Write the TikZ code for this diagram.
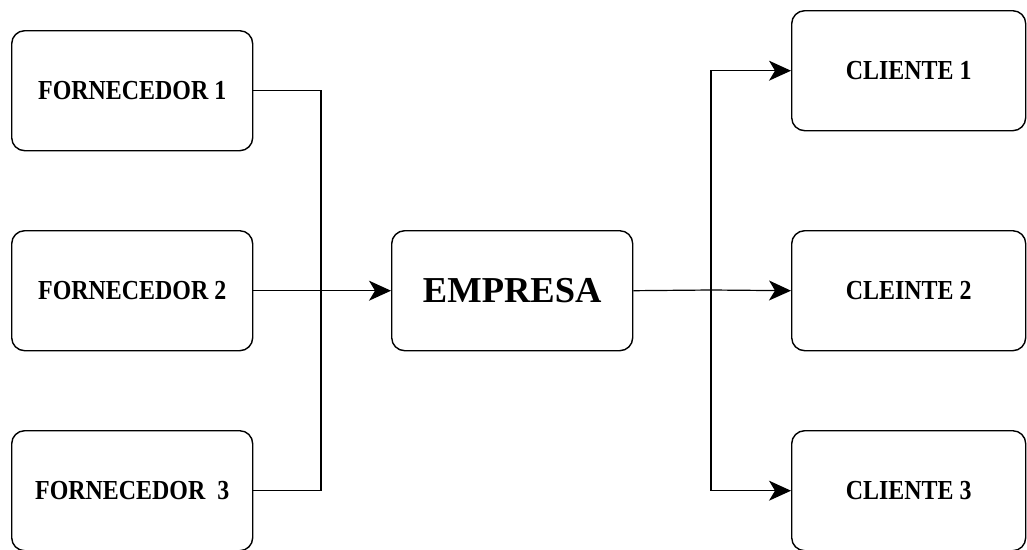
\documentclass[tikz,border=0pt]{standalone}
\usepackage{fontspec}
\setmainfont{Liberation Serif}
\newfontfamily\narrowserif[FakeStretch=0.87]{Liberation Serif}
\usetikzlibrary{arrows.meta}
\tikzset{
  block/.style={draw, line width=1.4pt, rounded corners=13pt, minimum width=241pt,
    minimum height=120pt, inner sep=0pt, anchor=north west, fill=white},
  smalltext/.style={font=\narrowserif\bfseries\fontsize{27.5}{32}\selectfont},
  bigtext/.style={font=\bfseries\fontsize{36.5}{42}\selectfont},
  link/.style={line width=1.2pt},
  flow/.style={line width=1.2pt, -{Stealth[length=22pt,width=20pt,inset=6pt]}}
}
\begin{document}
\begin{tikzpicture}[x=1pt,y=-1pt]
  \useasboundingbox (0,0) rectangle (1027,549);
  % suppliers
  \node[block, smalltext] (f1) at (11,30) {FORNECEDOR 1};
  \node[block, smalltext] (f2) at (11,230) {FORNECEDOR 2};
  \node[block, smalltext] (f3) at (11,430) {FORNECEDOR\ \ 3};
  % company
  \node[block, bigtext] (emp) at (391,230) {EMPRESA};
  % clients
  \node[block, smalltext, minimum width=234pt] (c1) at (791,10) {CLIENTE 1};
  \node[block, smalltext, minimum width=234pt] (c2) at (791,230) {CLEINTE 2};
  \node[block, smalltext, minimum width=234pt] (c3) at (791,430) {CLIENTE 3};
  % junction points
  \coordinate (jl) at (321,290);
  \coordinate (jr) at (711,290);
  % supplier connectors
  \draw[link] (f1.east) -| (jl);
  \draw[link] (f3.east) -| (jl);
  \draw[flow] (f2.east) -- (emp.west);
  % client connectors
  \draw[link] (emp.east) -- (jr);
  \draw[flow] (jr) |- (c1.west);
  \draw[flow] (jr) -- (c2.west);
  \draw[flow] (jr) |- (c3.west);
\end{tikzpicture}
\end{document}
